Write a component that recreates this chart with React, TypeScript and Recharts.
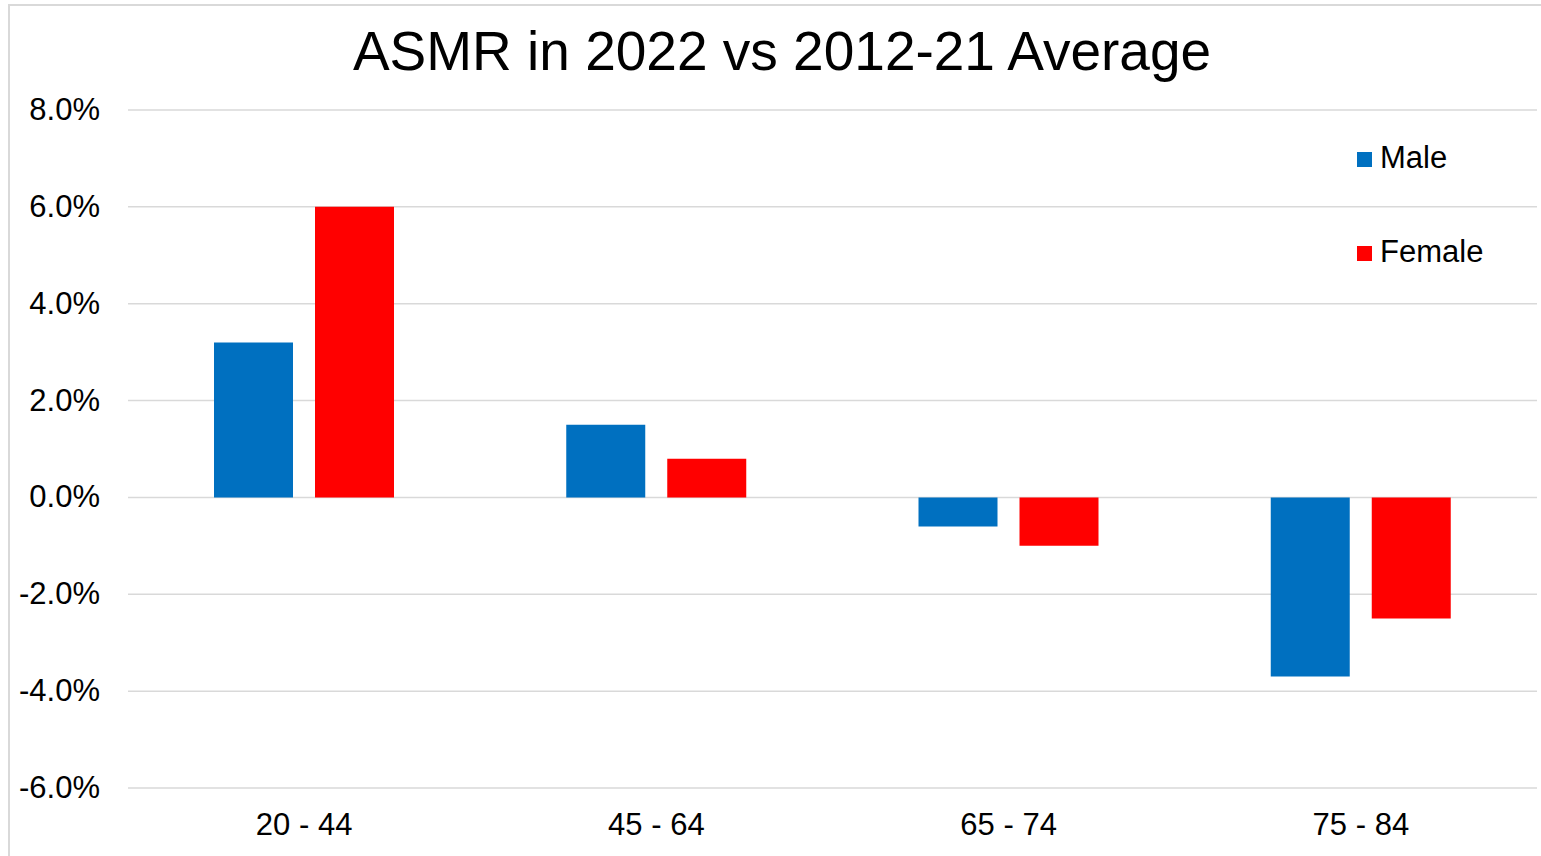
import React from "react";
import { BarChart, Bar, XAxis, YAxis, CartesianGrid, Legend } from "recharts";

const categories = ["20 - 44", "45 - 64", "65 - 74", "75 - 84"];
const maleValues = [3.2, 1.5, -0.6, -3.7];
const femaleValues = [6.0, 0.8, -1.0, -2.5];
const yTicks = [-6, -4, -2, 0, 2, 4, 6, 8];
const seriesNames = ["Male", "Female"];
const seriesColors = ["#0070C0", "#FF0000"];

const data = categories.map((c, i) => ({
  name: c,
  Male: maleValues[i],
  Female: femaleValues[i],
}));

const FONT = "'Liberation Sans', Arial, sans-serif";

const renderLegend = () => (
  <div style={{ fontFamily: FONT, fontSize: 31, color: "#000" }}>
    {seriesNames.map((n, i) => (
      <div
        key={n}
        style={{
          display: "flex",
          alignItems: "center",
          height: 30,
          lineHeight: "30px",
          marginTop: i === 0 ? 0 : 64,
          whiteSpace: "nowrap",
        }}
      >
        <span
          style={{
            display: "inline-block",
            width: 15,
            height: 15,
            background: seriesColors[i],
            marginRight: 8,
            marginTop: 2,
          }}
        />
        <span>{n}</span>
      </div>
    ))}
  </div>
);

export default function App() {
  return (
    <div style={{ position: "absolute", left: 0, top: 0, width: 1541, height: 856, overflow: "hidden", background: "#fff" }}>
      <div
        style={{
          position: "absolute",
          left: 8,
          top: 4,
          width: 1533,
          height: 852,
          borderTop: "2px solid #d9d9d9",
          borderLeft: "2px solid #d9d9d9",
          boxSizing: "border-box",
        }}
      />
      <div
        style={{
          position: "absolute",
          left: 0,
          width: 1564,
          top: 24,
          textAlign: "center",
          fontFamily: FONT,
          fontSize: 55,
          lineHeight: "55px",
          color: "#000",
          whiteSpace: "nowrap",
        }}
      >
        ASMR in 2022 vs 2012-21 Average
      </div>
      <div style={{ position: "absolute", left: 0, top: 0 }}>
        <BarChart
          width={1541}
          height={856}
          data={data}
          margin={{ top: 110, right: 4, bottom: 0, left: 0 }}
          barSize={79}
          barGap={22}
        >
          <CartesianGrid vertical={false} stroke="#d9d9d9" strokeWidth={1.5} />
          <XAxis
            dataKey="name"
            height={68}
            axisLine={false}
            tickLine={false}
            tickMargin={19}
            tick={{ fill: "#000", fontSize: 31, fontFamily: FONT }}
            interval={0}
          />
          <YAxis
            width={128}
            domain={[-6, 8]}
            ticks={yTicks}
            axisLine={false}
            tickLine={false}
            tickMargin={22}
            tickFormatter={(v: number) => `${v.toFixed(1)}%`}
            tick={{ fill: "#000", fontSize: 31, fontFamily: FONT, dy: -1 }}
            interval={0}
          />
          <Legend
            layout="vertical"
            align="center"
            verticalAlign="middle"
            content={renderLegend}
            wrapperStyle={{ left: 1357, top: 143, width: 200 }}
          />
          <Bar dataKey="Male" fill={seriesColors[0]} isAnimationActive={false} />
          <Bar dataKey="Female" fill={seriesColors[1]} isAnimationActive={false} />
        </BarChart>
      </div>
    </div>
  );
}
